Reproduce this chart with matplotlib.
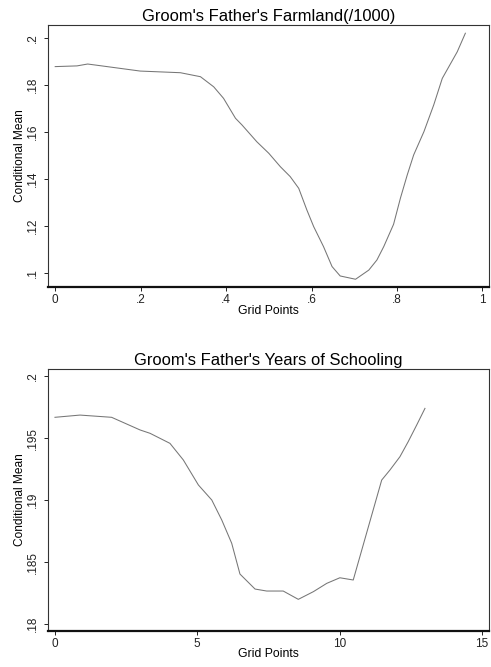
import matplotlib
matplotlib.use("Agg")
import matplotlib.pyplot as plt
from matplotlib.ticker import FixedLocator, FixedFormatter

plt.rcParams["font.family"] = ["Liberation Sans", "DejaVu Sans"]

# top panel: farmland
farm_x = [0.0, 0.051, 0.076, 0.105, 0.199, 0.293, 0.340, 0.371, 0.394, 0.422,
          0.437, 0.472, 0.500, 0.527, 0.550, 0.570, 0.589, 0.605, 0.628, 0.648,
          0.667, 0.703, 0.734, 0.753, 0.769, 0.792, 0.808, 0.824, 0.839, 0.863,
          0.886, 0.906, 0.941, 0.960]
farm_y = [0.1877, 0.1880, 0.1888, 0.1881, 0.1858, 0.1851, 0.1834, 0.1791, 0.1742, 0.1657,
          0.1629, 0.1557, 0.1508, 0.1451, 0.1409, 0.1359, 0.1267, 0.1196, 0.1111, 0.1026,
          0.0986, 0.0972, 0.1011, 0.1054, 0.1111, 0.1206, 0.1317, 0.1416, 0.1501, 0.1600,
          0.1714, 0.1827, 0.1940, 0.2019]
farm_xticks = [0, 0.2, 0.4, 0.6, 0.8, 1]
farm_xlabels = ["0", ".2", ".4", ".6", ".8", "1"]
farm_yticks = [0.1, 0.12, 0.14, 0.16, 0.18, 0.2]
farm_ylabels = [".1", ".12", ".14", ".16", ".18", ".2"]

# bottom panel: schooling
school_x = [0.0, 0.88, 1.99, 2.99, 3.34, 4.04, 4.51, 5.04, 5.51, 5.86,
            6.21, 6.50, 7.03, 7.44, 8.02, 8.55, 9.08, 9.55, 10.01, 10.48,
            11.48, 11.77, 12.12, 12.41, 12.71, 13.0]
school_y = [0.19667, 0.19685, 0.19667, 0.19565, 0.19538, 0.19457, 0.19323, 0.19121, 0.19000, 0.18839,
            0.18651, 0.18403, 0.18282, 0.18266, 0.18266, 0.18199, 0.18261, 0.18328, 0.18373, 0.18355,
            0.19161, 0.19242, 0.19349, 0.19470, 0.19605, 0.19739]
school_xticks = [0, 5, 10, 15]
school_xlabels = ["0", "5", "10", "15"]
school_yticks = [0.18, 0.185, 0.19, 0.195, 0.2]
school_ylabels = [".18", ".185", ".19", ".195", ".2"]

fig = plt.figure(figsize=(4.91, 6.67), dpi=100)
ax1 = fig.add_axes([0.0971, 0.5697, 0.8994, 0.3928])
ax2 = fig.add_axes([0.0971, 0.0544, 0.8994, 0.3919])


def style(ax, title, xt, xl, yt, yl, xlim, ylim):
    ax.set_xlim(*xlim)
    ax.set_ylim(*ylim)
    ax.set_title(title, fontsize=11.9, pad=3)
    ax.xaxis.set_major_locator(FixedLocator(xt))
    ax.xaxis.set_major_formatter(FixedFormatter(xl))
    ax.yaxis.set_major_locator(FixedLocator(yt))
    ax.yaxis.set_major_formatter(FixedFormatter(yl))
    ax.tick_params(axis="both", direction="out", length=3, width=0.7,
                   labelsize=8.5, colors="#222222", pad=2)
    ax.tick_params(axis="y", pad=3)
    for t in ax.get_yticklabels():
        t.set_rotation(90)
        t.set_va("center")
    for s in ("top", "right", "left"):
        ax.spines[s].set_linewidth(0.8)
        ax.spines[s].set_color("#333333")
    ax.spines["bottom"].set_linewidth(1.6)
    ax.spines["bottom"].set_color("#111111")
    ax.set_xlabel("Grid Points", fontsize=8.8, labelpad=-1)
    ax.set_ylabel("Conditional Mean", fontsize=8.6, labelpad=1)


ax1.plot(farm_x, farm_y, color="#767676", linewidth=0.75)
style(ax1, "Groom's Father's Farmland(/1000)", farm_xticks, farm_xlabels,
      farm_yticks, farm_ylabels, (-0.0176, 1.016), (0.0939, 0.2054))

ax2.plot(school_x, school_y, color="#767676", linewidth=0.75)
style(ax2, "Groom's Father's Years of Schooling", school_xticks, school_xlabels,
      school_yticks, school_ylabels, (-0.256, 15.26), (0.17946, 0.20054))

fig.savefig("out.png", dpi=100)
